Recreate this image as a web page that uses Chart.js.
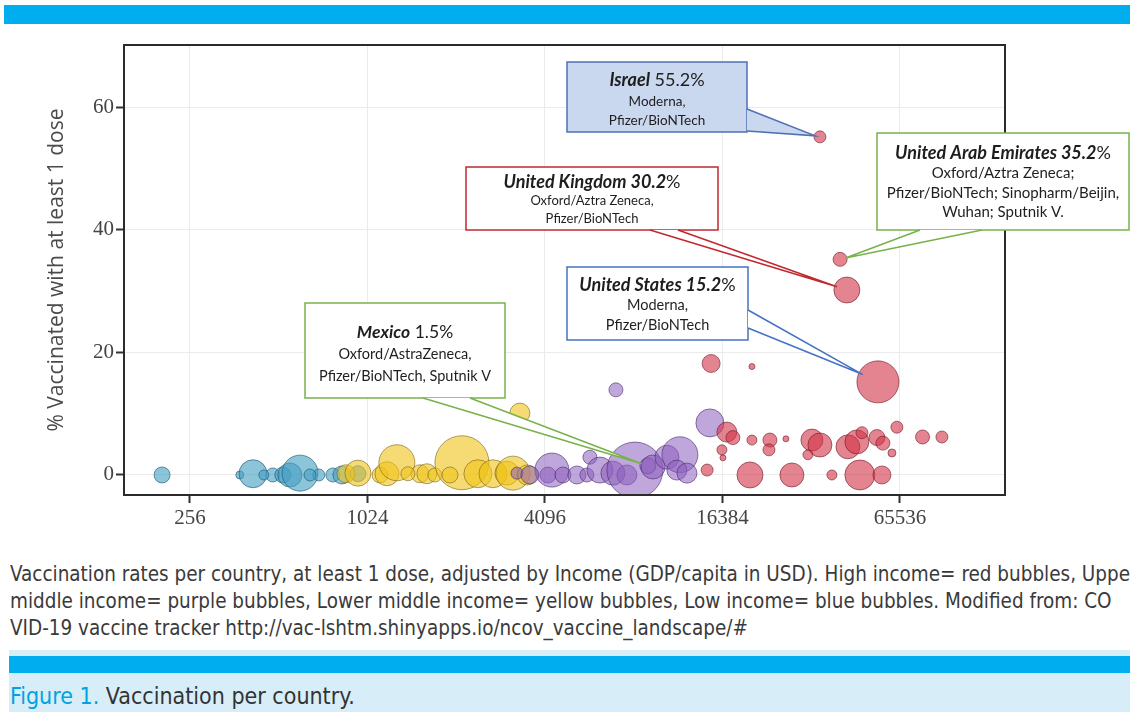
<!DOCTYPE html>
<html>
<head>
<meta charset="utf-8">
<script src="https://cdn.jsdelivr.net/npm/chart.js@4.4.0/dist/chart.umd.min.js"></script>
<style>
  html, body { margin: 0; padding: 0; background: #fff; width: 1130px; height: 712px; overflow: hidden; position: relative; }
  #topbar { position: absolute; left: 4px; top: 5px; width: 1126px; height: 19px; background: #00aeef; }
  #wrap { position: absolute; left: 0; top: 0; width: 1130px; height: 545px; }
  .cap { position: absolute; left: 10px; font-family: "Liberation Sans Narrow", "DejaVu Sans Condensed", sans-serif;
         font-size: 22px; color: #3a3a3a; white-space: nowrap; transform: scaleX(0.93); transform-origin: left center; }
  #band { position: absolute; left: 9px; top: 650px; width: 1121px; height: 62px; background: #d7eef9; }
  #bandbar { position: absolute; left: 9px; top: 656px; width: 1121px; height: 17px; background: #00aeef; }
  #fig { position: absolute; left: 10px; top: 683px; font-family: "Liberation Sans Narrow", "DejaVu Sans Condensed", sans-serif;
         font-size: 23px; color: #333; white-space: nowrap; }
  #fig b { color: #00a3e0; font-weight: normal; }
</style>
</head>
<body>
<div id="topbar"></div>
<div id="wrap"><canvas id="chart" width="1130" height="545"></canvas></div>
<div class="cap" style="top:561px">Vaccination rates per country, at least 1 dose, adjusted by Income (GDP/capita in USD). High income= red bubbles, Upper</div>
<div class="cap" style="top:588px">middle income= purple bubbles, Lower middle income= yellow bubbles, Low income= blue bubbles. Modified from: CO</div>
<div class="cap" style="top:615px">VID-19 vaccine tracker http://vac-lshtm.shinyapps.io/ncov_vaccine_landscape/#</div>
<div id="band"></div>
<div id="bandbar"></div>
<div id="fig"><b>Figure 1.</b> Vaccination per country.</div>

<script>
// axis ticks
const xTicks = [256, 1024, 4096, 16384, 65536];
const yTicks = [0, 20, 40, 60];

// high income (red) - first four are the labelled countries
const highGdp = [35090, 41080, 43300, 55200, 15000, 20630, 16960, 17780, 16320, 16450, 14540, 20320,
  20630, 23740, 23570, 26900, 28190, 32960, 35090, 31950, 38530, 43680, 46830, 48720, 47930,
  54760, 57380, 56950, 61570, 64000, 78200, 90970];
const highPct = [55.2, 35.2, 30.2, 15.2, 18.2, 17.7, 7.0, 6.1, 4.1, 2.8, 0.8, 0,
  5.7, 5.7, 4.1, 5.9, 0, 5.7, 4.9, 3.3, 0, 4.6, 5.4, 6.9, 0,
  6.1, 5.2, 0, 3.6, 7.8, 6.2, 6.2];
const highSize = [6, 7, 13, 21, 9, 3, 10, 7, 5, 3, 6, 13,
  5, 7, 6, 3, 12, 11, 12, 5, 5, 12, 12, 6, 15,
  8, 7, 9, 4, 6, 7, 6];

// upper middle income (purple) - index 12 is Mexico
const upperGdp = [3293, 4194, 4326, 4714, 5259, 5685, 5821, 6296, 6966, 7132, 7772, 8271,
  9150, 9528, 10625, 11755, 11480, 12420, 14858, 3641];
const upperPct = [0.3, 0, 0.8, 0, 0, 0, 2.9, 0.8, 0.3, 13.9, 0, 0.8,
  1.5, 1.3, 2.9, 3.3, 0.8, 0.3, 8.5, 0];
const upperSize = [6, 8, 17, 8, 9, 7, 7, 13, 12, 7, 10, 28,
  8, 12, 12, 18, 10, 10, 14, 9];

// lower middle income (yellow)
const lowerGdp = [866, 951, 1130, 1193, 1289, 1544, 1629, 1734, 2142, 2427, 2730, 3045,
  3191, 3369, 3566, 1405, 1951];
const lowerPct = [0.2, 0.3, 0, 0.2, 2.0, 0.2, 0.2, 0, 2.0, 0.2, 0.2, 0.3,
  0.3, 10.1, 0, 0.2, 0];
const lowerSize = [9, 13, 8, 12, 18, 9, 10, 7, 27, 14, 14, 12,
  17, 10, 10, 7, 8];

// low income (blue)
const lowGdp = [206, 378, 419, 489, 529, 559, 605, 701, 782, 839, 951, 456, 654];
const lowPct = [0, 0, 0.2, 0, 0, 0, 0.3, 0, 0, 0, 0.2, 0, 0];
const lowSize = [8, 4, 14, 7, 8, 12, 18, 6, 7, 9, 8, 5, 6];

function points(gdp, pct, size) {
  return gdp.map((g, i) => ({ x: g, y: pct[i], r: size[i] }));
}

const groups = [
  { label: "High income", data: points(highGdp, highPct, highSize), fill: "rgba(210,50,70,0.6)", line: "rgba(110,25,35,0.6)" },
  { label: "Upper middle income", data: points(upperGdp, upperPct, upperSize), fill: "rgba(140,95,190,0.55)", line: "rgba(70,40,110,0.6)" },
  { label: "Lower middle income", data: points(lowerGdp, lowerPct, lowerSize), fill: "rgba(240,195,25,0.6)", line: "rgba(120,100,25,0.6)" },
  { label: "Low income", data: points(lowGdp, lowPct, lowSize), fill: "rgba(70,160,195,0.62)", line: "rgba(25,80,110,0.6)" },
];

// callout boxes (layout only; tips come from the data points)
const callouts = [
  { ds: 0, idx: 0, x: 567, y: 62, w: 180, h: 70, fill: "#c9d7ef", stroke: "#4f71b4", sizes: [18, 13.5],
    base: [[747, 109], [747, 131]], ys: [80, 102, 121],
    lines: [[["Israel", "italic bold"], [" 55.2%", ""]], [["Moderna,", ""]], [["Pfizer/BioNTech", ""]]] },
  { ds: 0, idx: 2, x: 466, y: 167, w: 252, h: 63, fill: "#fff", stroke: "#c0282e", sizes: [18, 13],
    base: [[650, 230], [678, 230]], ys: [182, 201, 219],
    lines: [[["United Kingdom 30.2", "italic bold"], ["%", ""]], [["Oxford/Aztra Zeneca,", ""]], [["Pfizer/BioNTech", ""]]] },
  { ds: 0, idx: 1, x: 877, y: 133, w: 252, h: 97, fill: "#fff", stroke: "#77b24a", sizes: [18, 15],
    base: [[920, 230], [982, 230]], ys: [153, 173, 193, 212],
    lines: [[["United Arab Emirates 35.2", "italic bold"], ["%", ""]], [["Oxford/Aztra Zeneca;", ""]],
            [["Pfizer/BioNTech; Sinopharm/Beijin,", ""]], [["Wuhan; Sputnik V.", ""]]] },
  { ds: 0, idx: 3, x: 567, y: 267, w: 181, h: 73, fill: "#fff", stroke: "#4472c4", sizes: [18, 14.5],
    base: [[748, 310], [748, 328]], ys: [285, 305, 325],
    lines: [[["United States 15.2", "italic bold"], ["%", ""]], [["Moderna,", ""]], [["Pfizer/BioNTech", ""]]] },
  { ds: 1, idx: 12, x: 305, y: 303, w: 200, h: 95, fill: "#fff", stroke: "#77b24a", sizes: [17.5, 14.5],
    base: [[423, 398], [470, 398]], ys: [332, 354, 376],
    lines: [[["Mexico", "italic bold"], [" 1.5%", ""]], [["Oxford/AstraZeneca,", ""]], [["Pfizer/BioNTech, Sputnik V", ""]]] },
];

const frameAndCallouts = {
  id: "frameAndCallouts",
  afterDraw(chart) {
    const ctx = chart.ctx;
    const a = chart.chartArea;
    ctx.save();
    ctx.strokeStyle = "#2b2b2b";
    ctx.lineWidth = 2;
    ctx.strokeRect(a.left, a.top, a.right - a.left, a.bottom - a.top);
    ctx.restore();

    callouts.forEach((c) => {
      const el = chart.getDatasetMeta(c.ds).data[c.idx];
      const r = el.options.radius;
      const mx = (c.base[0][0] + c.base[1][0]) / 2;
      const my = (c.base[0][1] + c.base[1][1]) / 2;
      const d = Math.hypot(mx - el.x, my - el.y);
      const tip = { x: el.x + ((mx - el.x) / d) * r * 0.8, y: el.y + ((my - el.y) / d) * r * 0.8 };

      ctx.save();
      ctx.lineWidth = 1.5;
      ctx.strokeStyle = c.stroke;
      ctx.fillStyle = c.fill;
      ctx.fillRect(c.x, c.y, c.w, c.h);
      ctx.strokeRect(c.x, c.y, c.w, c.h);
      ctx.beginPath();
      ctx.moveTo(c.base[0][0], c.base[0][1]);
      ctx.lineTo(tip.x, tip.y);
      ctx.lineTo(c.base[1][0], c.base[1][1]);
      ctx.closePath();
      ctx.fill();
      ctx.beginPath();
      ctx.moveTo(c.base[0][0], c.base[0][1]);
      ctx.lineTo(tip.x, tip.y);
      ctx.lineTo(c.base[1][0], c.base[1][1]);
      ctx.stroke();

      ctx.fillStyle = "#1e1e1e";
      ctx.textBaseline = "middle";
      ctx.textAlign = "left";
      c.lines.forEach((runs, i) => {
        const size = i === 0 ? c.sizes[0] : c.sizes[1];
        let total = 0;
        runs.forEach((run) => {
          ctx.font = `${run[1]} ${size}px Lato, "Open Sans", sans-serif`;
          total += ctx.measureText(run[0]).width;
        });
        let x = c.x + c.w / 2 - total / 2;
        runs.forEach((run) => {
          ctx.font = `${run[1]} ${size}px Lato, "Open Sans", sans-serif`;
          ctx.fillText(run[0], x, c.ys[i]);
          x += ctx.measureText(run[0]).width;
        });
      });
      ctx.restore();
    });
  },
};

new Chart(document.getElementById("chart"), {
  type: "bubble",
  data: {
    datasets: groups.map((g) => ({
      label: g.label,
      data: g.data,
      backgroundColor: g.fill,
      borderColor: g.line,
      borderWidth: 1,
      hoverRadius: 0,
      clip: 0,
    })),
  },
  options: {
    responsive: false,
    animation: false,
    events: [],
    layout: { padding: { left: 44, right: 125, top: 45, bottom: 0 } },
    plugins: { legend: { display: false }, tooltip: { enabled: false } },
    scales: {
      x: {
        type: "logarithmic",
        min: 153,
        max: 148900,
        afterBuildTicks: (s) => { s.ticks = xTicks.map((v) => ({ value: v })); },
        afterFit: (s) => { s.height = 50; },
        border: { display: false },
        grid: { color: "#ebebeb", lineWidth: 1, tickLength: 8, tickColor: "#333", tickWidth: 2 },
        ticks: {
          color: "#444",
          padding: 3,
          maxRotation: 0,
          autoSkip: false,
          font: { family: "'Liberation Serif', serif", size: 21 },
          callback: (v) => String(v),
        },
      },
      y: {
        min: -3.27,
        max: 70.2,
        afterBuildTicks: (s) => { s.ticks = yTicks.map((v) => ({ value: v })); },
        afterFit: (s) => { s.width = 80; },
        border: { display: false },
        grid: { color: "#ebebeb", lineWidth: 1, tickLength: 8, tickColor: "#333", tickWidth: 2 },
        ticks: {
          color: "#444",
          padding: 2,
          font: { family: "'Liberation Serif', serif", size: 21 },
        },
        title: {
          display: true,
          text: "% Vaccinated with at least 1 dose",
          color: "#4a4a4a",
          font: { family: "'Open Sans', sans-serif", size: 21 },
          padding: { top: 0, bottom: 0 },
        },
      },
    },
  },
  plugins: [frameAndCallouts],
});
</script>
</body>
</html>
